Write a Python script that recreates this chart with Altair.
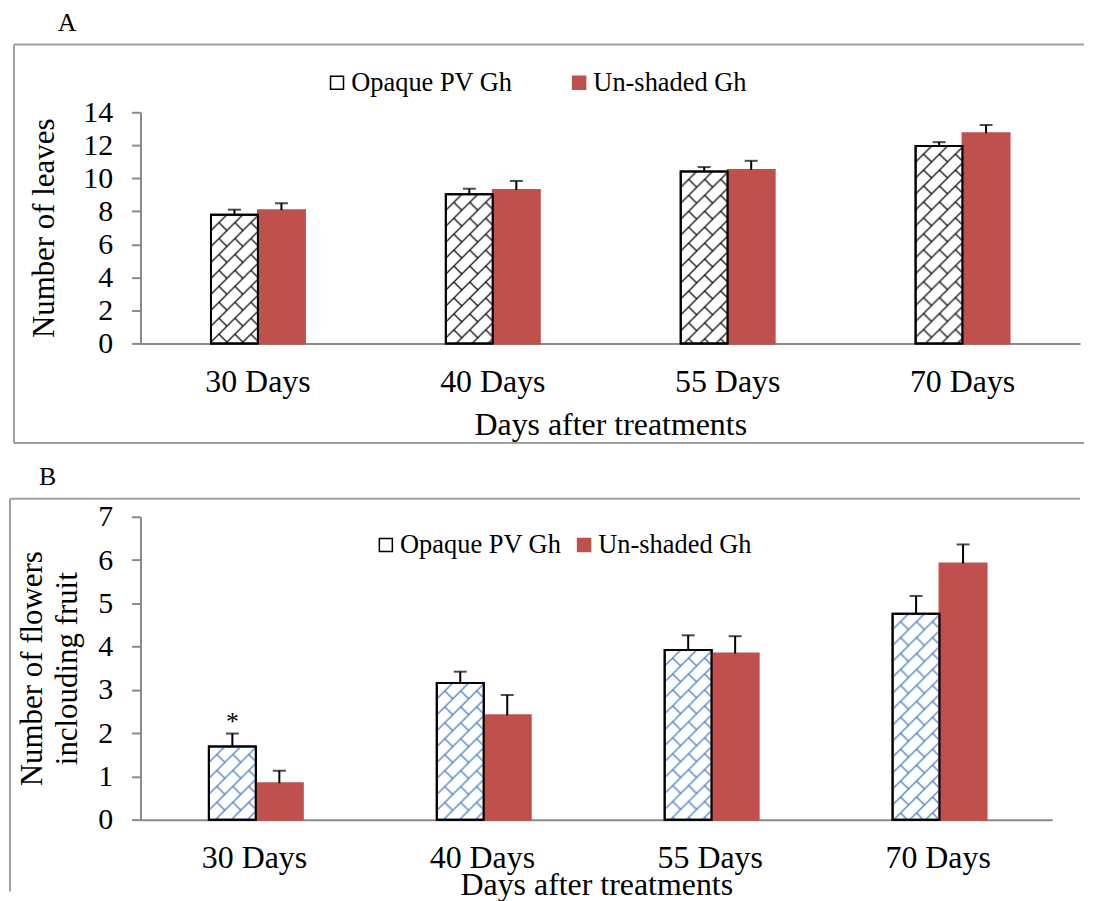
import base64
import altair as alt
import pandas as pd

# ---------------- data ----------------
days = ["30 Days", "40 Days", "55 Days", "70 Days"]
series = ["Opaque PV Gh", "Un-shaded Gh"]

leaves_opaque = [7.80, 9.03, 10.42, 11.95]
leaves_opaque_err = [0.30, 0.34, 0.26, 0.24]
leaves_unshaded = [8.07, 9.29, 10.50, 12.73]
leaves_unshaded_err = [0.42, 0.55, 0.56, 0.50]

flowers_opaque = [1.69, 3.16, 3.92, 4.76]
flowers_opaque_err = [0.30, 0.26, 0.34, 0.41]
flowers_unshaded = [0.84, 2.41, 3.84, 5.92]
flowers_unshaded_err = [0.29, 0.47, 0.40, 0.44]
flowers_sig_opaque = ["*", "", "", ""]

RED = "#C0504D"
AXIS_GREY = "#8A8A8A"
FRAME_GREY = "#A0A0A0"
FONT = "Liberation Serif"
LEGEND_FONT_SIZE = 26.5


def hatch_url(color, width):
    svg = (
        "<svg xmlns='http://www.w3.org/2000/svg' width='100%' height='100%'>"
        "<defs><pattern id='p' width='16' height='16' patternUnits='userSpaceOnUse'>"
        f"<path d='M0,16L16,0 M-3,3L3,-3 M13,19L19,13 M8,8L16,16' stroke='{color}' "
        f"stroke-width='{width}' fill='none'/>"
        "</pattern></defs><rect width='100%' height='100%' fill='url(#p)'/></svg>"
    )
    return "data:image/svg+xml;base64," + base64.b64encode(svg.encode()).decode()


def make_df(v1, e1, v2, e2, sig1=None):
    rows = []
    for i, d in enumerate(days):
        rows.append(dict(day=d, series=series[0], value=v1[i], top=v1[i] + e1[i],
                         sig=(sig1[i] if sig1 else "")))
        rows.append(dict(day=d, series=series[1], value=v2[i], top=v2[i] + e2[i], sig=""))
    return pd.DataFrame(rows)


def legend(legend_x, legend_y, legend_pad):
    return alt.Legend(title=None, orient="none", legendX=legend_x, legendY=legend_y,
                      direction="horizontal", labelFont=FONT,
                      labelFontSize=LEGEND_FONT_SIZE, labelLimit=400,
                      labelColor="black", symbolType="square", symbolSize=170,
                      symbolStrokeWidth=1.5, labelOffset=1, columnPadding=legend_pad)


def panel(df, ymax, ystep, width, height, ytitle, ytitle_pad, title_text, title_dx,
          frame, bottom, legend_x, legend_y, legend_pad, hatch, label_pad_x, title_pad_x):
    x_axis = alt.Axis(title="Days after treatments", labelAngle=0, ticks=False,
                      labelFont=FONT, labelFontSize=32, labelColor="black",
                      labelPadding=label_pad_x, titleFont=FONT, titleFontSize=32,
                      titleFontWeight="normal", titleColor="black",
                      titlePadding=title_pad_x, domainColor=AXIS_GREY, domainWidth=2)
    x = alt.X("day:N", sort=days,
              scale=alt.Scale(paddingInner=0.6, paddingOuter=0.3), axis=x_axis)
    xo = alt.XOffset("series:N", sort=series,
                     scale=alt.Scale(paddingInner=0, paddingOuter=0))

    def yenc(field):
        return alt.Y(f"{field}:Q", title=ytitle,
                     scale=alt.Scale(domain=[0, ymax], nice=False),
                     axis=alt.Axis(values=list(range(0, ymax + 1, ystep)), grid=False,
                                   labelFont=FONT, labelFontSize=30, labelColor="black",
                                   labelPadding=19, tickSize=9, tickColor=AXIS_GREY,
                                   tickWidth=2, domainColor=AXIS_GREY, domainWidth=2,
                                   titleFont=FONT, titleFontSize=31,
                                   titleFontWeight="normal", titleColor="black",
                                   titlePadding=ytitle_pad, titleLineHeight=35))

    lg = legend(legend_x, legend_y, legend_pad)
    base = alt.Chart(df)
    bars = base.mark_bar(strokeWidth=2).encode(
        x=x, xOffset=xo, y=yenc("value"), y2=alt.datum(0),
        fill=alt.Fill("series:N", sort=series,
                      scale=alt.Scale(domain=series, range=["white", RED]), legend=lg),
        stroke=alt.Stroke("series:N", sort=series,
                          scale=alt.Scale(domain=series, range=["black", RED]), legend=lg),
    )
    opaque = base.transform_filter(alt.datum.series == series[0])
    img = opaque.mark_image(aspect=False).encode(
        x=x, xOffset=xo, y=yenc("value"), y2=alt.datum(0), url=alt.value(hatch))
    outline = opaque.mark_bar(fillOpacity=0, stroke="black", strokeWidth=2).encode(
        x=x, xOffset=xo, y=yenc("value"), y2=alt.datum(0))
    err = base.mark_rule(color="black", strokeWidth=2).encode(
        x=x, xOffset=xo, y=yenc("value"), y2="top:Q")
    caps = base.mark_tick(color="black", size=13, thickness=2).encode(
        x=x, xOffset=xo, y=yenc("top"))
    sig = base.transform_filter(alt.datum.sig != "").mark_text(
        font=FONT, fontSize=26, color="black", dy=-4, baseline="alphabetic").encode(
        x=x, xOffset=xo, y=yenc("top"), text="sig:N")

    fx0, fy0, fx1, fy1 = frame
    fr = alt.Chart(pd.DataFrame({"k": [0]}))
    layers = [
        fr.mark_rule(color=FRAME_GREY, strokeWidth=2).encode(
            x=alt.value(fx0), y=alt.value(fy0), y2=alt.value(fy1)),
        fr.mark_rule(color=FRAME_GREY, strokeWidth=2).encode(
            x=alt.value(fx0), x2=alt.value(fx1), y=alt.value(fy0)),
    ]
    if bottom:
        layers.append(fr.mark_rule(color=FRAME_GREY, strokeWidth=2).encode(
            x=alt.value(fx0), x2=alt.value(fx1), y=alt.value(fy1)))

    return alt.layer(*layers, bars, img, outline, err, caps, sig).properties(
        width=width, height=height,
        title=alt.TitleParams(title_text, anchor="start", frame="bounds", dx=title_dx,
                              font=FONT, fontSize=26, fontWeight="normal",
                              color="black", offset=8),
    )


df_a = make_df(leaves_opaque, leaves_opaque_err, leaves_unshaded, leaves_unshaded_err)
df_b = make_df(flowers_opaque, flowers_opaque_err, flowers_unshaded,
               flowers_unshaded_err, flowers_sig_opaque)

chart_a = panel(df_a, 14, 2, 943, 232, "Number of leaves", 22, "A", 45,
                (-127, -68, 947, 332), True,
                184, -43, 53, hatch_url("#111111", 1.3), 23, 12)
chart_b = panel(df_b, 7, 1, 915, 304, ["Number of flowers", "inclouding fruit"], 14,
                "B", 30, (-131, -18, 943, 376), False,
                233, 15, 9, hatch_url("#4A7EC8", 1.3), 23, -4)

chart = alt.vconcat(chart_a, chart_b, spacing=20).resolve_scale(
    fill="independent", stroke="independent"
).resolve_legend(
    fill="independent", stroke="independent"
).configure(
    padding={"left": 1, "top": 0, "right": 0, "bottom": 0}
).configure_view(stroke=None).configure_legend(
    labelFont=FONT, labelFontSize=LEGEND_FONT_SIZE, labelColor="black", labelLimit=400
)

chart.save("out.html", embed_options={"renderer": "svg", "actions": False})
